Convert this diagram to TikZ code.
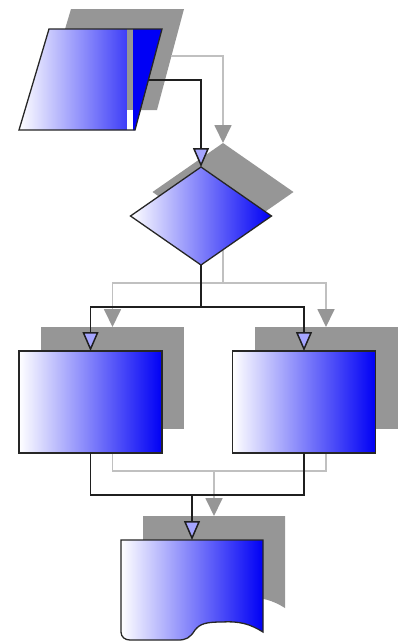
\documentclass[tikz,border=0pt]{standalone}
\usetikzlibrary{shapes.geometric,arrows.meta}
\definecolor{shadowgray}{RGB}{150,150,150}
\definecolor{linegray}{RGB}{192,192,192}
\definecolor{tipfill}{RGB}{165,165,255}
\definecolor{fgblue}{RGB}{0,0,245}
\begin{document}
\begin{tikzpicture}[x=1pt,y=-1pt,
  shapefill/.style={left color=white,right color=fgblue,draw=black!85,line width=1.3pt},
  shadowfill/.style={fill=shadowgray,draw=none},
  boxshape/.style={rectangle,minimum width=143pt,minimum height=102pt,inner sep=0pt,outer sep=0pt},
  dshape/.style={diamond,minimum width=141pt,minimum height=98pt,inner sep=0pt,outer sep=0pt},
  conn/.style={draw=black!88,line width=1.5pt,-{Triangle[length=19pt,width=16pt,fill=tipfill]}},
  plainconn/.style={draw=black!88,line width=1.5pt},
  sconn/.style={draw=linegray,line width=1.8pt,-{Triangle[length=18pt,width=17pt,fill=shadowgray,color=shadowgray]}},
  plainsconn/.style={draw=linegray,line width=1.8pt}
]
\useasboundingbox (0,0) rectangle (401,643);

% ---------- shadows ----------
\fill[shadowgray] (71,9) -- (184,9) -- (157,110) -- (41,110) -- cycle;
\node[dshape,shadowfill] (dias) at (223,192) {};
\node[boxshape,shadowfill] (boxLs) at (112.5,378) {};
\node[boxshape,shadowfill] (boxRs) at (326,378) {};
\fill[shadowgray] (143,516) -- (285,516) -- (285,608)
  .. controls (272,600) and (262,597) .. (244,598)
  .. controls (227,598) and (222,600) .. (217,606)
  .. controls (212,614) and (208,616) .. (200,616)
  -- (152,616) .. controls (147,616) and (143,613) .. (143,608) -- cycle;

% ---------- shadow connectors ----------
\coordinate (pouts) at (170.6,56);
\coordinate (j1s) at (223,283);
\coordinate (j2s) at (214,471);
\coordinate (doctops) at (214,516);
\draw[sconn] (pouts) -| (dias.north);
\draw[plainsconn] (dias.south) -- (j1s);
\draw[sconn] (j1s) -| (boxLs.north);
\draw[sconn] (j1s) -| (boxRs.north);
\draw[plainsconn] (boxLs.south) |- (j2s);
\draw[plainsconn] (boxRs.south) |- (j2s);
\draw[sconn] (j2s) -- (doctops);

% ---------- shapes ----------
% data (parallelogram)
\shade[left color=white,right color=fgblue] (49,29) -- (162,29) -- (135,130) -- (19,130) -- cycle;
\begin{scope}
  \clip (49,29) -- (162,29) -- (135,130) -- (19,130) -- cycle;
  \fill[shadowgray] (127,20) rectangle (133,110);
  \fill[white] (127,110) rectangle (133,140);
  \fill[fgblue] (133,20) rectangle (170,140);
\end{scope}
\draw[draw=black!85,line width=1.3pt] (49,29) -- (162,29) -- (135,130) -- (19,130) -- cycle;
\coordinate (pout) at (148.6,80);

\node[dshape,shapefill] (dia) at (201,216) {};
\node[boxshape,shapefill] (boxL) at (90.5,402) {};
\node[boxshape,shapefill] (boxR) at (304,402) {};

% document
\path[shapefill] (121,540) -- (263,540) -- (263,632)
  .. controls (250,624) and (240,621) .. (222,622)
  .. controls (205,622) and (200,624) .. (195,630)
  .. controls (190,638) and (186,640) .. (178,640)
  -- (130,640) .. controls (125,640) and (121,637) .. (121,632) -- cycle;
\coordinate (doctop) at (192,540);

% ---------- connectors ----------
\coordinate (j1) at (201,307);
\coordinate (j2) at (192,495);
\draw[conn] (pout) -| (dia.north);
\draw[plainconn] (dia.south) -- (j1);
\draw[conn] (j1) -| (boxL.north);
\draw[conn] (j1) -| (boxR.north);
\draw[plainconn] (boxL.south) |- (j2);
\draw[plainconn] (boxR.south) |- (j2);
\draw[conn] (j2) -- (doctop);
\end{tikzpicture}
\end{document}
